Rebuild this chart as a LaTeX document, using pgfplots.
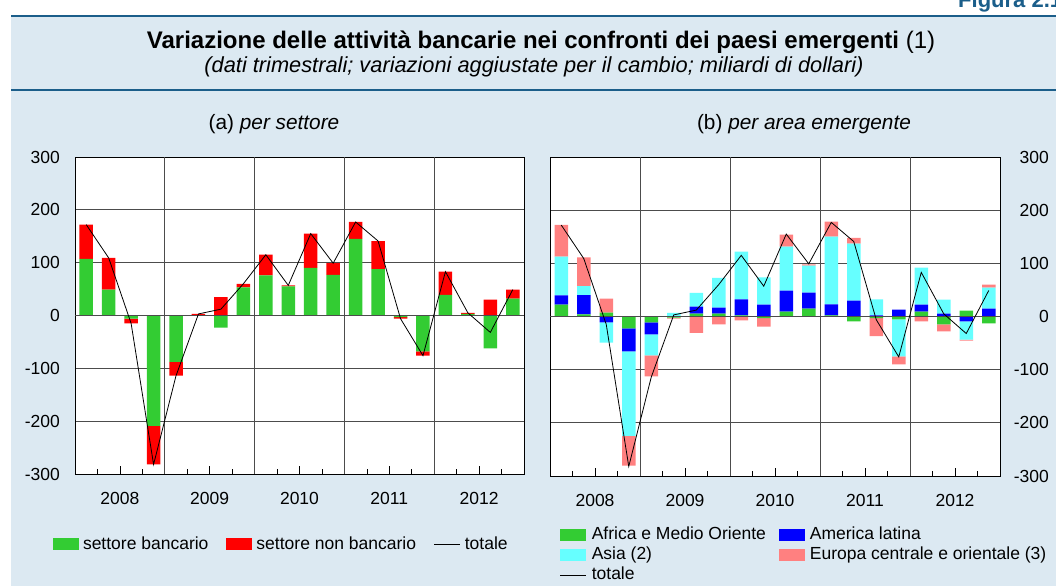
\documentclass[border=0pt]{standalone}
\usepackage{pgfplots}
\pgfplotsset{compat=1.18}
\usepackage{pgfplotstable}
\usepackage{fontspec}
\setmainfont{Liberation Sans}
\definecolor{cg}{HTML}{33CC33}
\definecolor{cr}{HTML}{FF0000}
\definecolor{cb}{HTML}{0000FF}
\definecolor{cc}{HTML}{66FFFF}
\definecolor{cp}{HTML}{FF8080}
\definecolor{bgb}{HTML}{DCE9F2}
\definecolor{lc}{HTML}{1B5E8A}
\newcommand{\fs}{\fontsize{17.5}{21}\selectfont}
\pgfplotsset{lineleg/.style={legend image code/.code={\draw[##1] (0pt,0pt) -- (26pt,0pt);}}}

% (a) per settore: positive and negative parts
\pgfplotstableread{
x g r
0 107 65
1 49 60
2 0 0
3 0 0
4 0 0
5 0 3
6 0 35
7 53 7
8 76 39
9 55 2
10 90 65
11 77 22
12 145 32
13 88 53
14 0 0
15 0 0
16 39 44
17 3 2
18 0 30
19 32 17
}\Lpos
\pgfplotstableread{
x g r
0 0 0
1 0 0
2 -6 -9
3 -209 -73
4 -88 -26
5 0 0
6 -23 0
7 0 0
8 0 0
9 0 0
10 0 0
11 0 0
12 0 0
13 0 0
14 -3 -3
15 -68 -8
16 0 0
17 0 0
18 -62 0
19 0 0
}\Lneg
\pgfplotstableread{
x t
0 172
1 109
2 -15
3 -282
4 -114
5 3
6 12
7 60
8 115
9 57
10 155
11 99
12 177
13 141
14 -6
15 -76
16 83
17 5
18 -32
19 49
}\Tot
% (b) per area emergente
\pgfplotstableread{
x af am as eu
0 22.5 17 73 60
1 4 36 17 54
2 7.5 0 0 26
3 0 0 0 0
4 0 0 0 0
5 0 0 7 0
6 5.6 13 26 0
7 5.6 11 56 0
8 2 30 90 0
9 0 22.5 51 0
10 9.4 39.5 82.7 22.5
11 15 30 50.7 2.5
12 2 20.7 127.7 28
13 0 30 107 11
14 0 2 30 0
15 0 13 0 0
16 9.4 13 69.5 0
17 0 5.6 26 0
18 11 0 0 0
19 0 15 39.5 5.6
}\Rpos
\pgfplotstableread{
x af am as eu
0 0 0 0 0
1 0 0 0 0
2 0 -11 -38 0
3 -22.5 -43 -159 -56
4 -11 -22.5 -39.5 -39.5
5 -2 0 0 -2
6 0 0 0 -31
7 0 0 0 -15
8 0 0 0 -7.5
9 -3 0 0 -16
10 0 0 0 0
11 0 0 0 0
12 0 0 0 0
13 -9 0 0 0
14 -3 0 0 -34
15 -5.6 0 -69.5 -15
16 0 0 0 -9.4
17 -15 0 0 -13
18 0 -9.4 -34 -2
19 -13 0 0 0
}\Rneg

\pgfplotsset{
  panel/.style={scale only axis, anchor=south west, xmin=-0.5, xmax=19.5, ymin=-300, ymax=300},
  gridaxis/.style={panel, axis background/.style={fill=white},
    axis line style={black, line width=0.9pt},
    tick style={black, line width=0.6pt},
    ytick={-300,-200,-100,0,100,200,300},
    yticklabels={-300,-200,-100,0,100,200,300},
    ytick style={draw=none},
    ymajorgrids, grid style={black!70, line width=0.7pt},
    xtick={1.5,5.5,9.5,13.5,17.5}, xticklabels={2008,2009,2010,2011,2012},
    minor xtick={0.5,2.5,4.5,6.5,8.5,10.5,12.5,14.5,16.5,18.5},
    extra x ticks={3.5,7.5,11.5,15.5}, extra x tick labels={},
    extra x tick style={grid=major, major tick length=0pt},
    tick align=inside, xtick pos=bottom, major tick length=8pt, minor tick length=4.7pt,
    tick label style={font=\fs},
    xticklabel style={inner sep=0pt, yshift=-18pt},
    ybar stacked, bar width=13.5pt},
  hid/.style={panel, hide axis},
  negaxis/.style={panel, hide axis, ybar stacked, bar width=13.5pt},
  sqleg/.style={legend image code/.code={\fill[##1] (0pt,-6pt) rectangle (26pt,6pt);}},
}

\begin{document}
\begin{tikzpicture}
\path[use as bounding box] (0pt,0pt) rectangle (1056pt,586pt);
\clip (0pt,0pt) rectangle (1056pt,586pt);
\fill[white] (0pt,0pt) rectangle (1056pt,586pt);
\fill[bgb] (11pt,0pt) rectangle (1056pt,570pt);
\draw[lc, line width=2pt] (11pt,570pt) -- (1056pt,570pt);
\draw[lc, line width=1.2pt] (11pt,496pt) -- (1056pt,496pt);
\node[anchor=base west, text=lc, font=\bfseries\fontsize{22}{26}\selectfont, inner sep=0pt] at (958pt,578pt) {Figura 2.1};
\node[font=\fontsize{24}{28}\selectfont, inner sep=0pt] at (541pt,544pt) {\textbf{Variazione delle attività bancarie nei confronti dei paesi emergenti} (1)};
\node[font=\fontsize{21.8}{25}\selectfont\itshape, inner sep=0pt] at (534pt,519pt) {(dati trimestrali; variazioni aggiustate per il cambio; miliardi di dollari)};
\node[font=\fontsize{20.8}{24}\selectfont, inner sep=0pt] at (274pt,462pt) {(a) \textit{per settore}};
\node[font=\fontsize{20.8}{24}\selectfont, inner sep=0pt] at (804pt,462pt) {(b) \textit{per area emergente}};

% ---------- left panel ----------
\begin{axis}[gridaxis, at={(75pt,112pt)}, width=449pt, height=317pt,
  yticklabel style={inner sep=0pt, xshift=-15pt}]
\addplot[fill=cg, draw=none] table[x=x, y=g] {\Lpos};
\addplot[fill=cr, draw=none] table[x=x, y=r] {\Lpos};
\end{axis}
\begin{axis}[negaxis, at={(75pt,112pt)}, width=449pt, height=317pt]
\addplot[fill=cg, draw=none] table[x=x, y=g] {\Lneg};
\addplot[fill=cr, draw=none] table[x=x, y=r] {\Lneg};
\end{axis}
\begin{axis}[hid, at={(75pt,112pt)}, width=449pt, height=317pt,
  legend columns=3, sqleg, legend cell align=left,
  legend style={draw=none, fill=none, at={(-0.049,-0.2208)}, anchor=west,
    inner sep=0pt, outer sep=0pt, font=\fs, column sep=4pt,
    nodes={inner sep=0pt},
    /tikz/every even column/.append style={column sep=18pt}}]
\addlegendimage{fill=cg, draw=none}\addlegendentry{settore bancario}
\addlegendimage{fill=cr, draw=none}\addlegendentry{settore non bancario}
\addlegendimage{lineleg, black, line width=0.8pt}\addlegendentry{totale}
\draw[black!70, line width=0.7pt] (rel axis cs:0,0.5) -- (rel axis cs:1,0.5);
\addplot[black, line width=0.8pt, forget plot] table[x=x, y=t] {\Tot};
\end{axis}

% ---------- right panel ----------
\begin{axis}[gridaxis, at={(550pt,110pt)}, width=450pt, height=319pt,
  yticklabel pos=right,
  yticklabel style={anchor=east, inner sep=0pt, xshift=49pt}]
\addplot[fill=cg, draw=none] table[x=x, y=af] {\Rpos};
\addplot[fill=cb, draw=none] table[x=x, y=am] {\Rpos};
\addplot[fill=cc, draw=none] table[x=x, y=as] {\Rpos};
\addplot[fill=cp, draw=none] table[x=x, y=eu] {\Rpos};
\end{axis}
\begin{axis}[negaxis, at={(550pt,110pt)}, width=450pt, height=319pt]
\addplot[fill=cg, draw=none] table[x=x, y=af] {\Rneg};
\addplot[fill=cb, draw=none] table[x=x, y=am] {\Rneg};
\addplot[fill=cc, draw=none] table[x=x, y=as] {\Rneg};
\addplot[fill=cp, draw=none] table[x=x, y=eu] {\Rneg};
\end{axis}
\begin{axis}[hid, at={(550pt,110pt)}, width=450pt, height=319pt,
  legend columns=2, sqleg, legend cell align=left,
  legend style={draw=none, fill=none, at={(0.0222,-0.160)}, anchor=north west,
    inner sep=0pt, outer sep=0pt, font=\fs, column sep=5pt, row sep=4pt,
    nodes={inner sep=0pt, text height=12.5pt, text depth=3.5pt},
    /tikz/every even column/.append style={column sep=13pt}}]
\addlegendimage{fill=cg, draw=none}\addlegendentry{Africa e Medio Oriente}
\addlegendimage{fill=cb, draw=none}\addlegendentry{America latina}
\addlegendimage{fill=cc, draw=none}\addlegendentry{Asia (2)}
\addlegendimage{fill=cp, draw=none}\addlegendentry{Europa centrale e orientale (3)}
\addlegendimage{lineleg, black, line width=0.8pt}\addlegendentry{totale}
\draw[black!70, line width=0.7pt] (rel axis cs:0,0.5) -- (rel axis cs:1,0.5);
\addplot[black, line width=0.8pt, forget plot] table[x=x, y=t] {\Tot};
\end{axis}
\end{tikzpicture}
\end{document}
